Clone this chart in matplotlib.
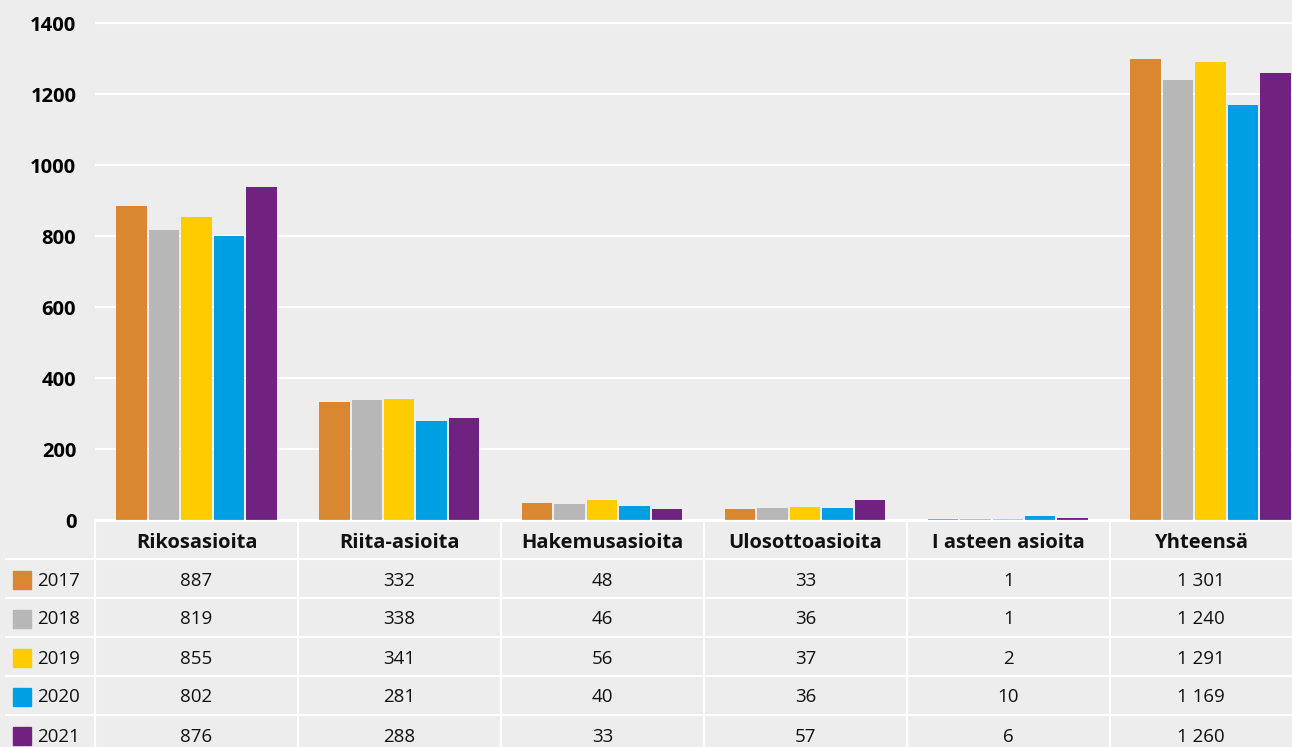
import matplotlib
matplotlib.use("Agg")
import matplotlib.pyplot as plt
from matplotlib.patches import Rectangle
import numpy as np

# data
categories = ["Rikosasioita", "Riita-asioita", "Hakemusasioita",
              "Ulosottoasioita", "I asteen asioita", "Yhteensä"]
years = ["2017", "2018", "2019", "2020", "2021"]
colors = ["#D98831", "#B7B7B7", "#FFCC00", "#009FE3", "#6F2280"]

# bar heights as drawn in the picture
bars_2017 = [887, 332, 48, 33, 3, 1301]
bars_2018 = [819, 338, 46, 36, 3, 1240]
bars_2019 = [855, 341, 56, 37, 3, 1291]
bars_2020 = [802, 281, 40, 36, 11, 1169]
bars_2021 = [940, 288, 33, 57, 6, 1260]

# values printed in the table
table_2017 = ["887", "332", "48", "33", "1", "1 301"]
table_2018 = ["819", "338", "46", "36", "1", "1 240"]
table_2019 = ["855", "341", "56", "37", "2", "1 291"]
table_2020 = ["802", "281", "40", "36", "10", "1 169"]
table_2021 = ["876", "288", "33", "57", "6", "1 260"]

yticks = [0, 200, 400, 600, 800, 1000, 1200, 1400]

bars = [bars_2017, bars_2018, bars_2019, bars_2020, bars_2021]
rows = [table_2017, table_2018, table_2019, table_2020, table_2021]

plt.rcParams['font.family'] = ['Open Sans', 'DejaVu Sans']
BG = "#EDEDED"
W, H = 1292, 747

fig = plt.figure(figsize=(W / 100, H / 100), dpi=100)
fig.patch.set_facecolor(BG)

# main bar axes (extends past the right edge, picture is cropped)
ax = fig.add_axes([95 / W, (H - 520.3) / H, 1217 / W, (520.3 - 10) / H])
ax.set_facecolor(BG)
x = np.arange(len(categories))
step, width = 0.16, 0.15
for k, (vals, c) in enumerate(zip(bars, colors)):
    ax.bar(x + (k - 2) * step, vals, width=width, color=c, zorder=3)
ax.set_xlim(-0.5, len(categories) - 0.5)
ax.set_ylim(0, 1438)
ax.set_yticks(yticks)
ax.set_yticklabels([str(t) for t in yticks], fontsize=14.5, fontweight='bold')
ax.tick_params(axis='y', length=0, pad=13.5)
ax.set_xticks([])
ax.grid(axis='y', color='white', linewidth=1.6, zorder=0)
for s in ax.spines.values():
    s.set_visible(False)

# table drawn in pixel coordinates
tab = fig.add_axes([0, 0, 1, 1])
tab.set_xlim(0, W)
tab.set_ylim(H, 0)
tab.axis('off')
tab.patch.set_alpha(0)

col_left, col_w = 95, 203
header_top, header_bot, row_h = 521, 559, 39
lw = 1.6

tab.plot([col_left, W], [header_top, header_top], color='white', lw=lw)
for k in range(len(rows)):
    y = header_bot + k * row_h
    tab.plot([6, W], [y, y], color='white', lw=lw)
for i in range(len(categories)):
    xl = col_left + i * col_w
    tab.plot([xl, xl], [header_top, H], color='white', lw=lw)

for i, cat in enumerate(categories):
    xl = col_left + i * col_w
    xc = (xl + min(xl + col_w, W)) / 2
    tab.text(xc, (header_top + header_bot) / 2 + 2.5, cat, ha='center', va='center',
             fontsize=14.5, fontweight='bold', color='#111111')
    for k, row in enumerate(rows):
        yc = header_bot + k * row_h + row_h / 2 + 2
        tab.text(xc, yc, row[i], ha='center', va='center', fontsize=13.5,
                 color='#111111')

for k, (yr, c) in enumerate(zip(years, colors)):
    yc = header_bot + k * row_h + row_h / 2
    tab.add_patch(Rectangle((13, yc - 7.5), 18, 18, color=c))
    tab.text(37, yc + 2, yr, ha='left', va='center', fontsize=13.5, color='#111111')

fig.savefig("out.png", dpi=100, facecolor=BG)
